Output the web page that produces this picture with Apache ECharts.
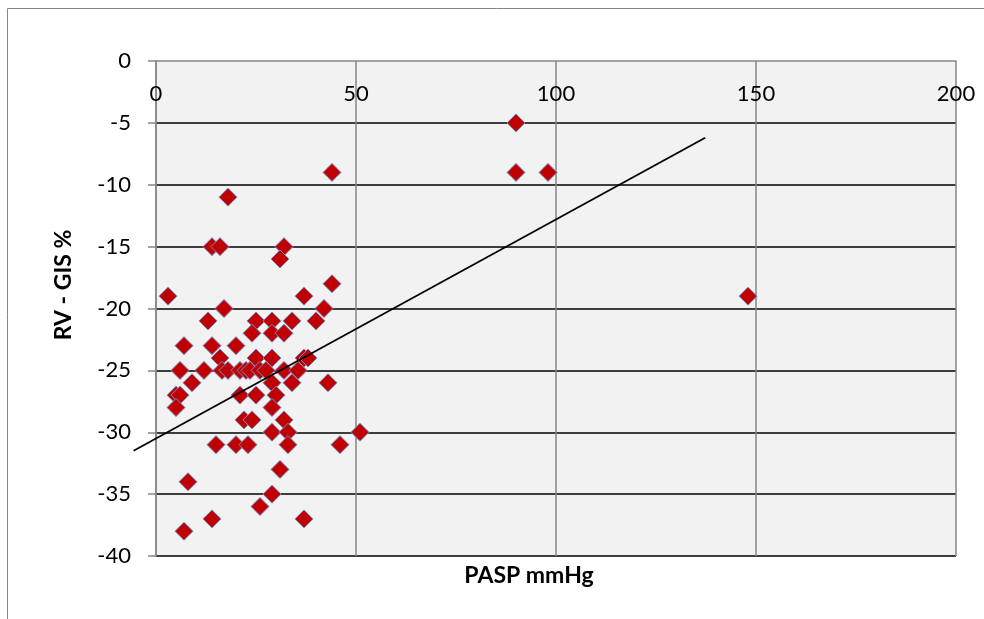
<!DOCTYPE html>
<html>
<head>
<meta charset="utf-8">
<script src="https://cdn.jsdelivr.net/npm/echarts@6/dist/echarts.min.js"></script>
<style>
html,body{margin:0;padding:0;background:#fff;}
#chart{width:984px;height:619px;}
</style>
</head>
<body>
<div id="chart"></div>
<script>
// PASP mmHg (x) and RV - GIS % (y), one entry per patient
var pasp  = [3,17,13,25,29,34,40,37,44,42,24,29,32,7,14,20,16,25,29,37,38,6,12,16.5,18,21,22.5,23.5,26,27.5,32,35.5,9,29,34,43,5,6,21,25,30,5,29,22,24,32,29,33,51,15,20,23,33,46,31,8,29,26,14,37,7,44,18,14,16,32,31,90,90,98,148];
var rvgis = [-19,-20,-21,-21,-21,-21,-21,-19,-18,-20,-22,-22,-22,-23,-23,-23,-24,-24,-24,-24,-24,-25,-25,-25,-25,-25,-25,-25,-25,-25,-25,-25,-26,-26,-26,-26,-27,-27,-27,-27,-27,-28,-28,-29,-29,-29,-30,-30,-30,-31,-31,-31,-31,-31,-33,-34,-35,-36,-37,-37,-38,-9,-11,-15,-15,-15,-16,-5,-9,-9,-19];
// linear trend line end points (extends back past x = 0)
var trendX = [-5.6, 137.3];
var trendY = [-31.5, -6.2];
var xTicks = [0, 50, 100, 150, 200];
var yTicks = [0, -5, -10, -15, -20, -25, -30, -35, -40];
var trendXMin = -6;

var points = pasp.map(function(v, i){ return [v, rvgis[i]]; });
var trend = trendX.map(function(v, i){ return [v, trendY[i]]; });

var FONT = 'Lato, Carlito, "Open Sans", sans-serif';
var plotLeft = 156, plotTop = 61, plotW = 800, plotH = 495;
var xMin = xTicks[0], xMax = xTicks[xTicks.length-1];
var pxPerUnit = plotW / (xMax - xMin);

var chart = echarts.init(document.getElementById('chart'), null, {renderer:'canvas'});
chart.setOption({
  animation:false,
  backgroundColor:'#ffffff',
  graphic:[
    {type:'rect', shape:{x:7.5,y:8.5,width:1000,height:700}, style:{fill:'none', stroke:'#868686', lineWidth:1}, z:-10},
    {type:'text', x:529, y:576, style:{text:'PASP mmHg', font:'bold 23px ' + FONT, fill:'#000', align:'center', verticalAlign:'middle'}},
    {type:'text', x:64, y:285, rotation:Math.PI/2, style:{text:'RV - GIS %', font:'bold 23px ' + FONT, fill:'#000', align:'center', verticalAlign:'middle'}}
  ],
  grid:[
    {left:plotLeft, top:plotTop, width:plotW, height:plotH, show:true, backgroundColor:'#f2f2f2', borderWidth:0},
    {left:plotLeft + (trendXMin - xMin) * pxPerUnit, top:plotTop, width:(xMax - trendXMin) * pxPerUnit, height:plotH, show:false}
  ],
  xAxis:[{
    type:'value', gridIndex:0, position:'top', min:xMin, max:xMax, interval:50,
    axisLine:{show:true, onZero:false, lineStyle:{color:'#868686', width:1.5}},
    axisTick:{show:false},
    axisLabel:{inside:true, margin:22, color:'#000', fontFamily:FONT, fontSize:22,
      formatter:function(v){ return xTicks.indexOf(v) >= 0 ? String(v) : ''; }},
    splitLine:{show:true, lineStyle:{color:'#868686', width:1.5}}
  },{
    type:'value', gridIndex:1, min:trendXMin, max:xMax, show:false, splitLine:{show:false}
  }],
  yAxis:[{
    type:'value', gridIndex:0, min:yTicks[yTicks.length-1], max:yTicks[0], interval:5,
    axisLine:{show:true, onZero:false, lineStyle:{color:'#868686', width:1.5}},
    axisTick:{show:true, inside:false, length:8, lineStyle:{color:'#868686', width:1.5}},
    axisLabel:{margin:25, color:'#000', fontFamily:FONT, fontSize:22},
    splitLine:{show:true, showMaxLine:false, lineStyle:{color:'#000000', width:1.5}}
  },{
    type:'value', gridIndex:1, min:yTicks[yTicks.length-1], max:yTicks[0], show:false, splitLine:{show:false}
  }],
  series:[
    {type:'scatter', xAxisIndex:0, yAxisIndex:0, data:points, symbol:'diamond', symbolSize:[18,18],
      itemStyle:{color:'#c00000', borderColor:'#6f8fc8', borderWidth:1, opacity:1}, z:3},
    {type:'line', xAxisIndex:1, yAxisIndex:1, data:trend, clip:false, symbol:'none', lineStyle:{color:'#000', width:1.8}, z:4, silent:true}
  ]
});
</script>
</body>
</html>
